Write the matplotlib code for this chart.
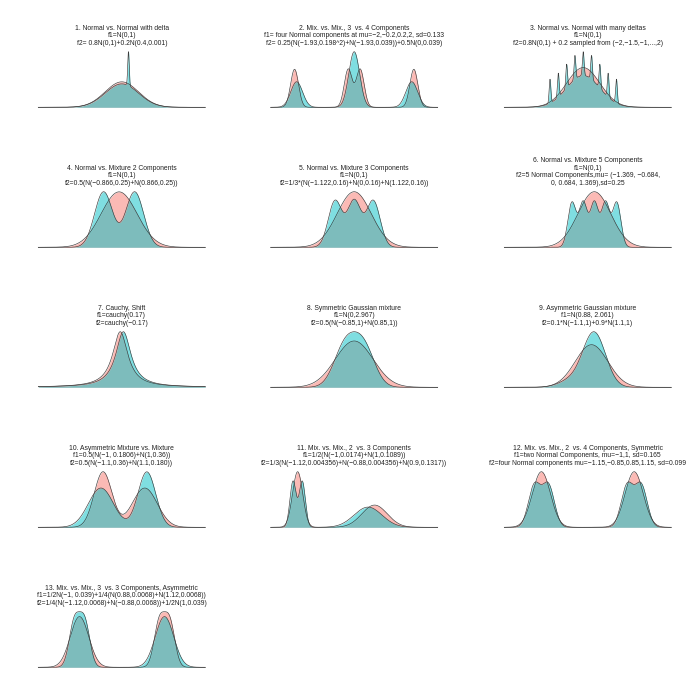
import numpy as np
import matplotlib
matplotlib.use("Agg")
import matplotlib.pyplot as plt

plt.rcParams['font.family'] = ['Liberation Sans', 'DejaVu Sans']

# panel titles
titles = [
    "1. Normal vs. Normal with delta\nf1=N(0,1)\nf2= 0.8N(0,1)+0.2N(0.4,0.001)",
    "2. Mix. vs. Mix., 3  vs. 4 Components\nf1= four Normal components at mu=\u22122,\u22120.2,0.2,2, sd=0.133\n"
    "f2= 0.25(N(\u22121.93,0.198^2)+N(\u22121.93,0.039))+0.5N(0,0.039)",
    "3. Normal vs. Normal with many deltas\nf1=N(0,1)\nf2=0.8N(0,1) + 0.2 sampled from (\u22122,\u22121.5,\u22121,...,2)",
    "4. Normal vs. Mixture 2 Components\nf1=N(0,1)\nf2=0.5(N(\u22120.866,0.25)+N(0.866,0.25))",
    "5. Normal vs. Mixture 3 Components\nf1=N(0,1)\nf2=1/3*(N(\u22121.122,0.16)+N(0,0.16)+N(1.122,0.16))",
    "6. Normal vs. Mixture 5 Components\nf1=N(0,1)\nf2=5 Normal Components,mu= (\u22121.369, \u22120.684,\n0, 0.684, 1.369),sd=0.25",
    "7. Cauchy, Shift\nf1=cauchy(0.17)\nf2=cauchy(\u22120.17)",
    "8. Symmetric Gaussian mixture\nf1=N(0,2.967)\nf2=0.5(N(\u22120.85,1)+N(0.85,1))",
    "9. Asymmetric Gaussian mixture\nf1=N(0.88, 2.061)\nf2=0.1*N(\u22121.1,1)+0.9*N(1.1,1)",
    "10. Asymmetric Mixture vs. Mixture\nf1=0.5(N(\u22121, 0.1806)+N(1,0.36))\nf2=0.5(N(\u22121.1,0.36)+N(1.1,0.180))",
    "11. Mix. vs. Mix., 2  vs. 3 Components\nf1=1/2(N(\u22121,0.0174)+N(1,0.1089))\n"
    "f2=1/3(N(\u22121.12,0.004356)+N(\u22120.88,0.004356)+N(0.9,0.1317))",
    "12. Mix. vs. Mix., 2  vs. 4 Components, Symmetric\nf1=two Normal Components, mu=\u22121,1, sd=0.165\n"
    "f2=four Normal components mu=\u22121.15,\u22120.85,0.85,1.15, sd=0.099",
    "13. Mix. vs. Mix., 3  vs. 3 Components, Asymmetric\nf1=1/2N(\u22121, 0.039)+1/4(N(0.88,0.0068)+N(1.12,0.0068))\n"
    "f2=1/4(N(\u22121.12,0.0068)+N(\u22120.88,0.0068))+1/2N(1,0.039)",
]

spike_pts = [-2, -1.5, -1, -0.5, 0, 0.5, 1, 1.5, 2]

f1_parts = [
    [(1.0, 0.0, 1.0)],
    [(0.25, -2.0, 0.133), (0.25, -0.2, 0.133), (0.25, 0.2, 0.133), (0.25, 2.0, 0.133)],
    [(1.0, 0.0, 1.0)],
    [(1.0, 0.0, 1.0)],
    [(1.0, 0.0, 1.0)],
    [(1.0, 0.0, 1.0)],
    None,
    [(1.0, 0.0, 1.7225)],
    [(1.0, 0.88, 1.4356)],
    [(0.5, -1.0, 0.425), (0.5, 1.0, 0.6)],
    [(0.5, -1.0, 0.132), (0.5, 1.0, 0.33)],
    [(0.5, -1.0, 0.195), (0.5, 1.0, 0.195)],
    [(0.5, -1.0, 0.217), (0.25, 0.88, 0.122), (0.25, 1.12, 0.122)],
]
f2_parts = [
    [(0.92, 0.0, 1.0), (0.06, 0.4, 0.045)],
    [(0.25, -1.93, 0.198), (0.25, 1.93, 0.198), (0.5, 0.0, 0.182)],
    [(0.8, 0.0, 1.0)] + [(0.03, p, 0.05) for p in spike_pts],
    [(0.5, -0.866, 0.5), (0.5, 0.866, 0.5)],
    [(1 / 3, -1.122, 0.4), (1 / 3, 0.0, 0.4), (1 / 3, 1.122, 0.4)],
    [(0.2, -1.369, 0.25), (0.2, -0.684, 0.25), (0.2, 0.0, 0.25), (0.2, 0.684, 0.25), (0.2, 1.369, 0.25)],
    None,
    [(0.5, -0.85, 1.0), (0.5, 0.85, 1.0)],
    [(0.1, -1.1, 1.0), (0.9, 1.1, 1.0)],
    [(0.5, -1.1, 0.6), (0.5, 1.1, 0.425)],
    [(0.25, -1.12, 0.08), (0.25, -0.88, 0.08), (0.5, 0.83, 0.363)],
    [(0.25, -1.15, 0.13), (0.25, -0.85, 0.13), (0.25, 0.85, 0.13), (0.25, 1.15, 0.13)],
    [(0.25, -1.12, 0.122), (0.25, -0.88, 0.122), (0.5, 1.0, 0.217)],
]
# cauchy panel (location, scale)
cauchy_f1 = (-0.17, 1.0)
cauchy_f2 = (0.17, 1.0)

xlims = [(-5.0, 5.0), (-2.8, 2.8), (-4.75, 5.3), (-4.5, 4.8), (-4.9, 4.9), (-5.5, 4.7),
         (-9.0, 9.0), (-7.6, 7.6), (-6.8, 7.9), (-4.1, 3.9), (-1.7, 2.64), (-1.8, 1.8),
         (-1.97, 1.96)]


def mix_pdf(x, parts):
    y = np.zeros_like(x)
    for w, m, s in parts:
        y += w * np.exp(-0.5 * ((x - m) / s) ** 2) / (s * np.sqrt(2 * np.pi))
    return y


def cauchy_pdf(x, loc, scale):
    return 1.0 / (np.pi * scale * (1 + ((x - loc) / scale) ** 2))


fig = plt.figure(figsize=(7, 7), dpi=100)
W, H = 700.0, 700.0
col_left = [38.3, 270.7, 504.3]
ax_w = 167.0
ax_h = 55.6

for i in range(13):
    r, c = divmod(i, 3)
    base = 107.3 + 140 * r
    ax = fig.add_axes([col_left[c] / W, 1 - base / H, ax_w / W, ax_h / H])
    lo, hi = xlims[i]
    x = np.linspace(lo, hi, 4000)
    if f1_parts[i] is None:
        y1 = cauchy_pdf(x, *cauchy_f1)
        y2 = cauchy_pdf(x, *cauchy_f2)
    else:
        y1 = mix_pdf(x, f1_parts[i])
        y2 = mix_pdf(x, f2_parts[i])
    for y, col in [(y1, '#F8766D'), (y2, '#00BFC4')]:
        ax.fill_between(x, 0, y, color=col, alpha=0.5, lw=0)
        ax.plot(x, y, color='#3a3a3a', lw=0.45, clip_on=False)
    ax.set_xlim(lo, hi)
    ax.set_ylim(0, max(y1.max(), y2.max()))
    ax.axis('off')
    ax.set_title(titles[i], fontsize=4.9, color='#222222', linespacing=1.13, pad=4.8)

fig.savefig('out.png', dpi=100)
